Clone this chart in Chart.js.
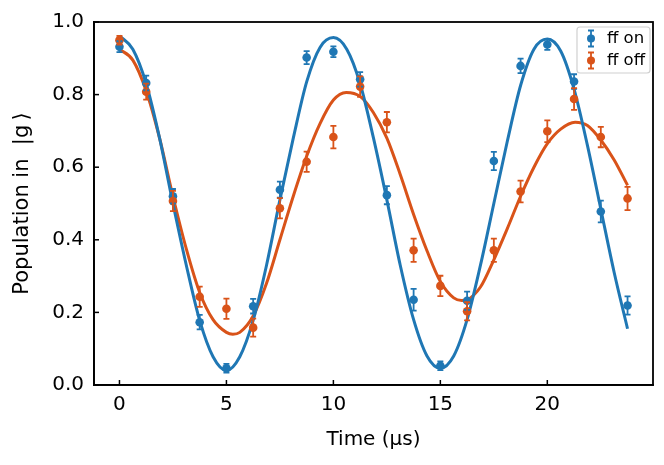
<!DOCTYPE html>
<html>
<head>
<meta charset="utf-8">
<script src="https://cdn.jsdelivr.net/npm/chart.js@4.4.0/dist/chart.umd.min.js"></script>
<style>
  body { margin: 0; background: #fff; }
</style>
</head>
<body>
<canvas id="myChart" width="664" height="465"></canvas>
<script>
// measured points
const times = [0, 1.25, 2.5, 3.75, 5, 6.25, 7.5, 8.75, 10, 11.25, 12.5, 13.75, 15, 16.25, 17.5, 18.75, 20, 21.25, 22.5, 23.75];
const onVals = [0.932, 0.832, 0.52, 0.173, 0.046, 0.217, 0.538, 0.902, 0.918, 0.842, 0.523, 0.235, 0.053, 0.232, 0.617, 0.879, 0.938, 0.836, 0.478, 0.219];
const onErr = [0.015, 0.02, 0.02, 0.02, 0.012, 0.02, 0.022, 0.018, 0.015, 0.02, 0.025, 0.03, 0.012, 0.025, 0.025, 0.02, 0.015, 0.02, 0.03, 0.025];
const offVals = [0.95, 0.808, 0.507, 0.243, 0.21, 0.158, 0.487, 0.615, 0.683, 0.822, 0.724, 0.371, 0.273, 0.203, 0.371, 0.533, 0.699, 0.788, 0.683, 0.514];
const offErr = [0.012, 0.022, 0.028, 0.028, 0.028, 0.025, 0.028, 0.028, 0.031, 0.028, 0.028, 0.032, 0.028, 0.025, 0.032, 0.03, 0.03, 0.03, 0.028, 0.032];

// fit curves
const onFitT = [0, 0.625, 1.25, 1.875, 2.5, 3.125, 3.75, 4.375, 5, 5.625, 6.25, 6.875, 7.5, 8.125, 8.75, 9.375, 10, 10.625, 11.25, 11.875, 12.5, 13.125, 13.75, 14.375, 15, 15.625, 16.25, 16.875, 17.5, 18.125, 18.75, 19.375, 20, 20.625, 21.25, 21.875, 22.5, 23.125, 23.75];
const onFitV = [0.962, 0.925, 0.83, 0.68, 0.5, 0.33, 0.178, 0.078, 0.04, 0.078, 0.178, 0.33, 0.51, 0.68, 0.835, 0.93, 0.957, 0.925, 0.83, 0.68, 0.51, 0.33, 0.18, 0.08, 0.046, 0.08, 0.18, 0.33, 0.5, 0.67, 0.825, 0.925, 0.953, 0.92, 0.815, 0.66, 0.485, 0.31, 0.155];
const offFitT = [0, 0.625, 1.25, 1.875, 2.5, 3.125, 3.75, 4.375, 5, 5.3, 5.625, 6.25, 6.875, 7.5, 8.125, 8.75, 9.375, 10, 10.6, 11.25, 11.875, 12.5, 13.125, 13.75, 14.375, 15, 15.625, 16, 16.25, 16.875, 17.5, 18.125, 18.75, 19.375, 20, 20.625, 21.3, 21.875, 22.5, 23.125, 23.75];
const offFitV = [0.925, 0.895, 0.81, 0.68, 0.52, 0.375, 0.255, 0.18, 0.145, 0.14, 0.145, 0.19, 0.28, 0.4, 0.52, 0.63, 0.72, 0.785, 0.806, 0.795, 0.75, 0.68, 0.58, 0.47, 0.37, 0.285, 0.24, 0.233, 0.235, 0.27, 0.345, 0.43, 0.52, 0.6, 0.665, 0.705, 0.724, 0.715, 0.675, 0.62, 0.55];

const xTicks = [0, 5, 10, 15, 20];
const yTicks = [0, 0.2, 0.4, 0.6, 0.8, 1.0];
const yTickLabels = ['0.0', '0.2', '0.4', '0.6', '0.8', '1.0'];
const legendNames = ['ff on', 'ff off'];

const BLUE = '#1f77b4';
const ORANGE = '#d95319';
const FONT = 'DejaVu Sans';

function pts(xs, ys) {
    return xs.map((x, i) => ({ x: x, y: ys[i] }));
}

// error bars, inward ticks, frame, legend
const extras = {
    id: 'extras',
    afterDatasetsDraw(chart) {
        const ctx = chart.ctx;
        const xs = chart.scales.x;
        const ys = chart.scales.y;
        const errs = [onErr, offErr];
        [2, 3].forEach((di, k) => {
            const meta = chart.getDatasetMeta(di);
            const color = chart.data.datasets[di].borderColor;
            ctx.save();
            ctx.strokeStyle = color;
            ctx.lineWidth = 1.8;
            meta.data.forEach((el, i) => {
                const v = chart.data.datasets[di].data[i].y;
                const y1 = ys.getPixelForValue(v - errs[k][i]);
                const y2 = ys.getPixelForValue(v + errs[k][i]);
                ctx.beginPath();
                ctx.moveTo(el.x, y1); ctx.lineTo(el.x, y2);
                ctx.moveTo(el.x - 3, y1); ctx.lineTo(el.x + 3, y1);
                ctx.moveTo(el.x - 3, y2); ctx.lineTo(el.x + 3, y2);
                ctx.stroke();
            });
            ctx.restore();
        });

        const a = chart.chartArea;
        ctx.save();
        ctx.strokeStyle = '#000';
        ctx.lineWidth = 1.5;
        xTicks.forEach(v => {
            const px = xs.getPixelForValue(v);
            ctx.beginPath();
            ctx.moveTo(px, a.bottom); ctx.lineTo(px, a.bottom - 5);
            ctx.stroke();
        });
        yTicks.forEach(v => {
            const py = ys.getPixelForValue(v);
            ctx.beginPath();
            ctx.moveTo(a.left, py); ctx.lineTo(a.left + 5, py);
            ctx.stroke();
        });
        ctx.lineWidth = 1.8;
        ctx.strokeRect(a.left, a.top, a.right - a.left, a.bottom - a.top);

        // legend box
        const bx = a.right - 76, by = a.top + 5, bw = 73, bh = 46;
        ctx.fillStyle = 'rgba(255,255,255,0.8)';
        ctx.strokeStyle = '#d0d0d0';
        ctx.lineWidth = 1.2;
        ctx.beginPath();
        ctx.roundRect(bx, by, bw, bh, 3);
        ctx.fill();
        ctx.stroke();
        [BLUE, ORANGE].forEach((c, i) => {
            const cy = by + 11.5 + i * 22;
            const cx = bx + 14;
            ctx.strokeStyle = c;
            ctx.fillStyle = c;
            ctx.lineWidth = 1.8;
            ctx.beginPath();
            ctx.moveTo(cx, cy - 8); ctx.lineTo(cx, cy + 8);
            ctx.moveTo(cx - 3, cy - 8); ctx.lineTo(cx + 3, cy - 8);
            ctx.moveTo(cx - 3, cy + 8); ctx.lineTo(cx + 3, cy + 8);
            ctx.stroke();
            ctx.beginPath();
            ctx.arc(cx, cy, 4, 0, Math.PI * 2);
            ctx.fill();
            ctx.fillStyle = '#000';
            ctx.font = '16.5px "' + FONT + '"';
            ctx.textBaseline = 'middle';
            ctx.fillText(legendNames[i], bx + 30, cy);
        });
        ctx.restore();
    }
};

const ctx = document.getElementById('myChart');

new Chart(ctx, {
    type: 'scatter',
    data: {
        datasets: [
            {
                label: 'fit on',
                data: pts(onFitT, onFitV),
                showLine: true,
                borderColor: BLUE,
                borderWidth: 3,
                pointRadius: 0,
                cubicInterpolationMode: 'monotone',
                order: 2
            },
            {
                label: 'fit off',
                data: pts(offFitT, offFitV),
                showLine: true,
                borderColor: ORANGE,
                borderWidth: 3,
                pointRadius: 0,
                cubicInterpolationMode: 'monotone',
                order: 3
            },
            {
                label: legendNames[0],
                data: pts(times, onVals),
                borderColor: BLUE,
                backgroundColor: BLUE,
                pointRadius: 4.3,
                pointBorderWidth: 0,
                order: 1
            },
            {
                label: legendNames[1],
                data: pts(times, offVals),
                borderColor: ORANGE,
                backgroundColor: ORANGE,
                pointRadius: 4.3,
                pointBorderWidth: 0,
                order: 0
            }
        ]
    },
    options: {
        responsive: false,
        animation: false,
        devicePixelRatio: 1,
        layout: { padding: { left: 0, top: 19, right: 11, bottom: 0 } },
        plugins: {
            legend: { display: false },
            tooltip: { enabled: false }
        },
        scales: {
            x: {
                type: 'linear',
                min: -1.19,
                max: 24.94,
                afterBuildTicks: s => { s.ticks = xTicks.map(v => ({ value: v })); },
                afterFit: s => { s.height = 80; },
                ticks: {
                    color: '#000',
                    font: { family: FONT, size: 20 },
                    padding: 8,
                    maxRotation: 0,
                    callback: v => String(v)
                },
                grid: { display: false, drawTicks: false },
                border: { display: true, color: '#000', width: 1.8 },
                title: {
                    display: true,
                    text: 'Time (μs)',
                    color: '#000',
                    font: { family: FONT, size: 20 },
                    padding: { top: 0, bottom: 13 }
                }
            },
            y: {
                type: 'linear',
                min: 0,
                max: 1,
                afterBuildTicks: s => { s.ticks = yTicks.map(v => ({ value: v })); },
                afterFit: s => { s.width = 94; },
                ticks: {
                    color: '#000',
                    font: { family: FONT, size: 20 },
                    padding: 10,
                    callback: (v, i) => yTickLabels[i]
                },
                grid: { display: false, drawTicks: false },
                border: { display: true, color: '#000', width: 1.8 },
                title: {
                    display: true,
                    text: 'Population in  |g\u2009⟩',
                    color: '#000',
                    font: { family: FONT, size: 21 },
                    padding: { top: 10, bottom: 0 }
                }
            }
        }
    },
    plugins: [extras]
});
</script>
</body>
</html>
